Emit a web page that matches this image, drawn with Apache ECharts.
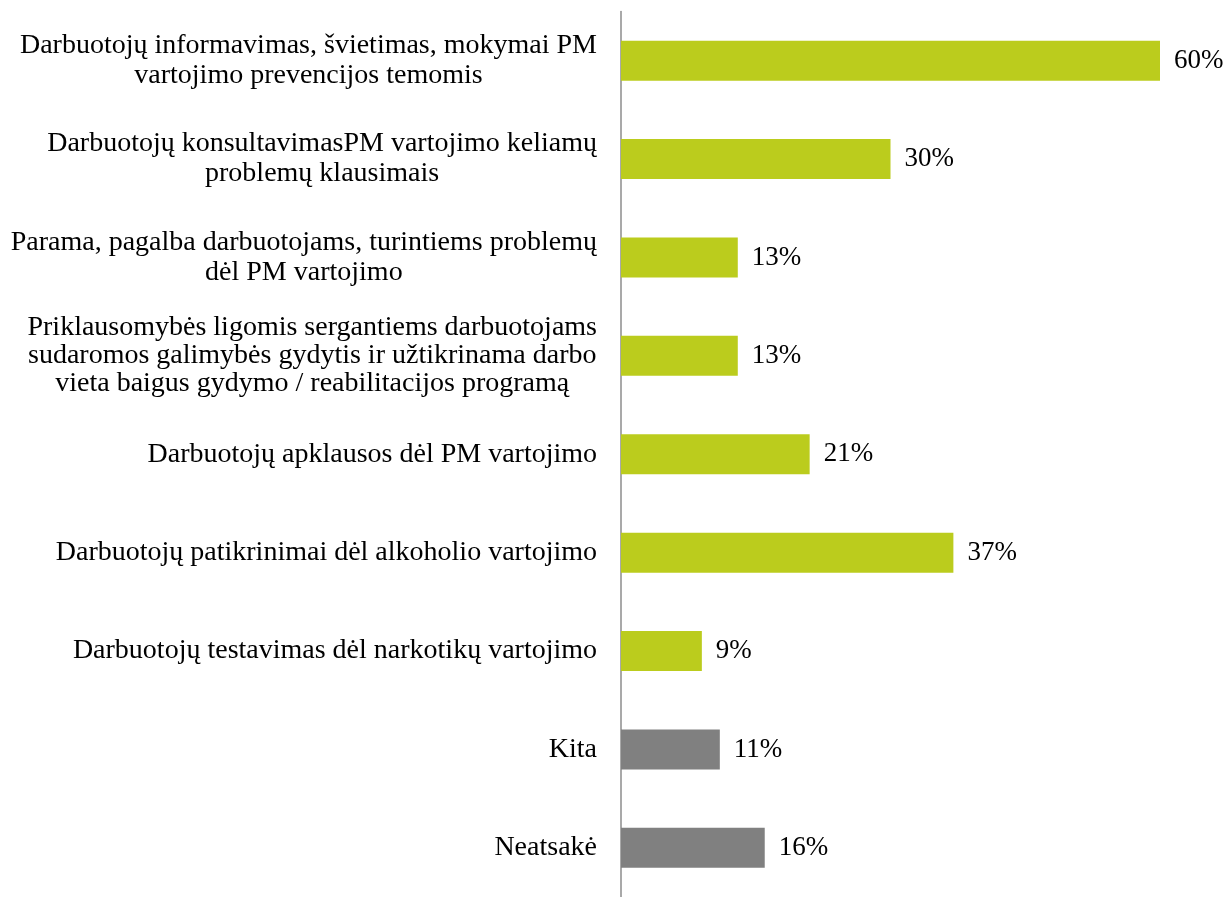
<!DOCTYPE html>
<html>
<head>
<meta charset="utf-8">
<script src="https://cdn.jsdelivr.net/npm/echarts@6/dist/echarts.min.js"></script>
<style>
  html, body { margin: 0; padding: 0; background: #fff; }
  #chart { width: 1227px; height: 897px; }
</style>
</head>
<body>
<div id="chart"></div>
<script>
// kategorijos (eilutės atskirtos \n)
var categories = [
  'Darbuotojų informavimas, švietimas, mokymai PM\nvartojimo prevencijos temomis',
  'Darbuotojų konsultavimasPM vartojimo keliamų\nproblemų klausimais',
  'Parama, pagalba darbuotojams, turintiems problemų\ndėl PM vartojimo',
  'Priklausomybės ligomis sergantiems darbuotojams\nsudaromos galimybės gydytis ir užtikrinama darbo\nvieta baigus gydymo / reabilitacijos programą',
  'Darbuotojų apklausos dėl PM vartojimo',
  'Darbuotojų patikrinimai dėl alkoholio vartojimo',
  'Darbuotojų testavimas dėl narkotikų vartojimo',
  'Kita',
  'Neatsakė'
];
var values = [60, 30, 13, 13, 21, 37, 9, 11, 16];
// paskutiniai du stulpeliai pilki
var grayFrom = 7;

var GREEN = '#bbcc1d';
var GRAY = '#808080';
var FONT = '"Liberation Serif", "Times New Roman", serif';

var myChart = echarts.init(document.getElementById('chart'));

var option = {
  backgroundColor: '#ffffff',
  animation: false,
  grid: {
    left: 621,
    top: 11.5,
    width: 539,
    height: 891,
    containLabel: false
  },
  xAxis: {
    type: 'value',
    min: 0,
    max: 60,
    show: false
  },
  yAxis: {
    type: 'category',
    inverse: true,
    data: categories,
    axisLine: { show: true, lineStyle: { color: '#8c8c8c', width: 1.5 } },
    axisTick: { show: false },
    splitLine: { show: false },
    axisLabel: {
      margin: 24,
      color: '#000',
      fontFamily: FONT,
      fontSize: 28,
      lineHeight: 29,
      // kiekviena eilutė centruojama bloke; 2 eilučių tarpai kiek didesni
      formatter: function (v) {
        var lines = v.split('\n');
        var st = lines.length > 2 ? 'c3' : 'c2';
        return lines.map(function (s) { return '{' + st + '|' + s + '}'; }).join('\n');
      },
      rich: {
        c2: {
          align: 'center',
          color: '#000',
          fontFamily: FONT,
          fontSize: 28,
          lineHeight: 30
        },
        c3: {
          align: 'center',
          color: '#000',
          fontFamily: FONT,
          fontSize: 28,
          lineHeight: 28
        }
      }
    }
  },
  series: [{
    type: 'bar',
    barWidth: 40,
    data: values.map(function (v, i) {
      return { value: v, itemStyle: { color: i >= grayFrom ? GRAY : GREEN } };
    }),
    label: {
      show: true,
      position: 'right',
      distance: 14,
      color: '#000',
      fontFamily: FONT,
      fontSize: 27,
      formatter: '{c}%'
    }
  }]
};

myChart.setOption(option);
</script>
</body>
</html>
